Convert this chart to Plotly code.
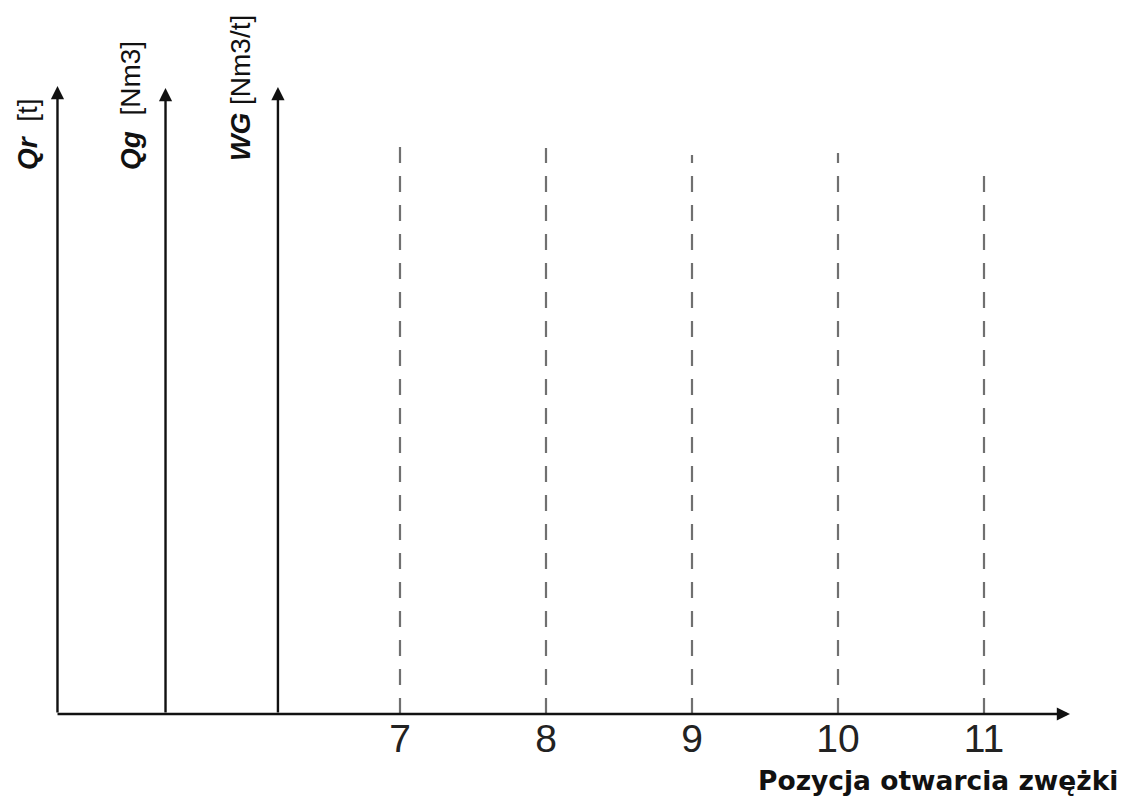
import plotly.graph_objects as go

# Data (x in "position" units, y in height units above the horizontal axis)
positions = [7, 8, 9, 10, 11]
tick_labels = ["7", "8", "9", "10", "11"]
dash_heights = [570, 566, 559, 561, 546]

axis_names = ["Qr", "Qg", "WG"]
axis_units = ["[t]", "[Nm3]", "[Nm3/t]"]
axis_x = [4.654, 5.394, 6.164]
axis_tops = [628, 626, 627]
label_x = [4.445, 5.151, 5.904]
label_y = [580, 608, 626]
label_gap = ["&nbsp;&nbsp;", "&nbsp;&nbsp;", "&nbsp;"]

x_title = "Pozycja otwarcia zwężki"

x_origin = 4.654
x_arrow_end = 11.589
x_range = [4.2603, 11.9863]
y_range = [0, 714]

FONT = "Liberation Sans, Arial, sans-serif"

fig = go.Figure()

for p, h in zip(positions, dash_heights):
    fig.add_trace(go.Scatter(
        x=[p, p], y=[0, h], mode="lines",
        line=dict(color="#707070", width=2.2, dash="16px,13px"),
        hoverinfo="skip", showlegend=False,
    ))

annotations = []
# vertical axes with arrows
for ax_x, top in zip(axis_x, axis_tops):
    annotations.append(dict(
        x=ax_x, y=top, ax=ax_x, ay=0, xref="x", yref="y", axref="x", ayref="y",
        text="", showarrow=True, arrowhead=2, arrowsize=1.1, arrowwidth=2.4,
        arrowcolor="#111111", standoff=0, startstandoff=0,
    ))
# horizontal axis
annotations.append(dict(
    x=x_arrow_end, y=0, ax=x_origin - 0.01, ay=0, xref="x", yref="y", axref="x", ayref="y",
    text="", showarrow=True, arrowhead=2, arrowsize=1.1, arrowwidth=2.4,
    arrowcolor="#111111", standoff=0, startstandoff=0,
))

# axis labels (rotated)
for name, unit, lx, ly, gap in zip(axis_names, axis_units, label_x, label_y, label_gap):
    annotations.append(dict(
        x=lx, y=ly, xref="x", yref="y", showarrow=False, textangle=-90,
        text=f"<b><i>{name}</i></b>{gap}{unit}",
        font=dict(family=FONT, size=28, color="#111111"),
        xanchor="center", yanchor="middle",
    ))

annotations.append(dict(
    x=1120 / 1128, y=(714 - 780) / 714, xref="paper", yref="paper", showarrow=False,
    text=f"<b>{x_title}</b>",
    font=dict(family="DejaVu Sans, sans-serif", size=26.5, color="#111111"),
    xanchor="right", yanchor="middle",
))

fig.update_layout(
    width=1128, height=802,
    margin=dict(l=0, r=0, t=0, b=88),
    paper_bgcolor="white", plot_bgcolor="white",
    showlegend=False,
    annotations=annotations,
    xaxis=dict(
        range=x_range, showgrid=False, zeroline=False, showline=False,
        tickvals=positions, ticktext=tick_labels, ticks="",
        tickfont=dict(family=FONT, size=39, color="#222222"),
        ticklabelstandoff=-2,
        fixedrange=True,
    ),
    yaxis=dict(range=y_range, visible=False, fixedrange=True),
)

fig.write_html(
    "out.html",
    config={"displayModeBar": False, "staticPlot": True},
    post_script="document.body.style.margin='0';document.body.style.overflow='hidden';",
)
